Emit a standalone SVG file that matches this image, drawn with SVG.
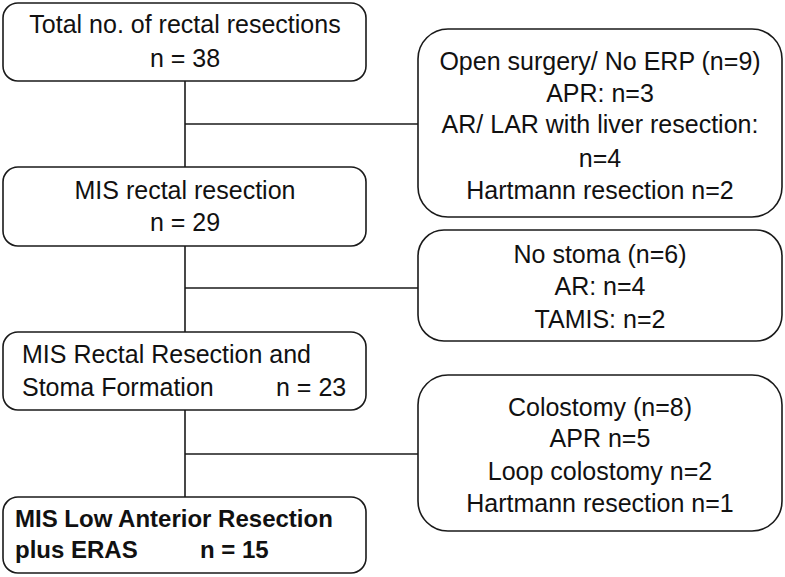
<svg xmlns="http://www.w3.org/2000/svg" width="785" height="577" viewBox="0 0 785 577">
<style>
.box{fill:#fff;stroke:#1a1a1a;stroke-width:1.6}
.ln{stroke:#1a1a1a;stroke-width:1.6;fill:none}
text{font-family:"Liberation Sans",Arial,sans-serif;font-size:25px;fill:#111}
.c{text-anchor:middle}
.b{font-weight:bold;font-size:24px}
</style>
<rect width="785" height="577" fill="#fff"/>
<g id="connectors">
<line class="ln" x1="185" y1="81" x2="185" y2="167"/>
<line class="ln" x1="185" y1="124" x2="418" y2="124"/>
<line class="ln" x1="185" y1="246" x2="185" y2="332"/>
<line class="ln" x1="185" y1="288" x2="418" y2="288"/>
<line class="ln" x1="185" y1="410" x2="185" y2="497"/>
<line class="ln" x1="185" y1="454" x2="418" y2="454"/>
</g>
<g id="total">
<rect class="box" x="3" y="3" width="363" height="78" rx="15"/>
<text class="c" x="185" y="33">Total no. of rectal resections</text>
<text class="c" x="185" y="67">n = 38</text>
</g>
<g id="mis">
<rect class="box" x="3" y="167" width="363" height="79" rx="15"/>
<text class="c" x="185" y="199">MIS rectal resection</text>
<text class="c" x="185" y="231">n = 29</text>
</g>
<g id="mis-stoma">
<rect class="box" x="3" y="332" width="363" height="78" rx="15"/>
<text x="22" y="363">MIS Rectal Resection and</text>
<text x="22" y="396">Stoma Formation<tspan x="276">n = 23</tspan></text>
</g>
<g id="mis-lar">
<rect class="box" x="3" y="497" width="363" height="76" rx="15"/>
<text class="b" x="15" y="527">MIS Low Anterior Resection</text>
<text class="b" x="15" y="558">plus ERAS<tspan x="200">n = 15</tspan></text>
</g>
<g id="open">
<rect class="box" x="418" y="29" width="364" height="188" rx="30"/>
<text class="c" x="600" y="70">Open surgery/ No ERP (n=9)</text>
<text class="c" x="600" y="102">APR: n=3</text>
<text class="c" x="600" y="133">AR/ LAR with liver resection:</text>
<text class="c" x="600" y="167">n=4</text>
<text class="c" x="600" y="199">Hartmann resection n=2</text>
</g>
<g id="nostoma">
<rect class="box" x="418" y="230" width="364" height="111" rx="26"/>
<text class="c" x="600" y="263">No stoma (n=6)</text>
<text class="c" x="600" y="295">AR: n=4</text>
<text class="c" x="600" y="328">TAMIS: n=2</text>
</g>
<g id="colostomy">
<rect class="box" x="418" y="375" width="364" height="156" rx="30"/>
<text class="c" x="600" y="416">Colostomy (n=8)</text>
<text class="c" x="600" y="447">APR n=5</text>
<text class="c" x="600" y="480">Loop colostomy n=2</text>
<text class="c" x="600" y="512">Hartmann resection n=1</text>
</g>
</svg>
